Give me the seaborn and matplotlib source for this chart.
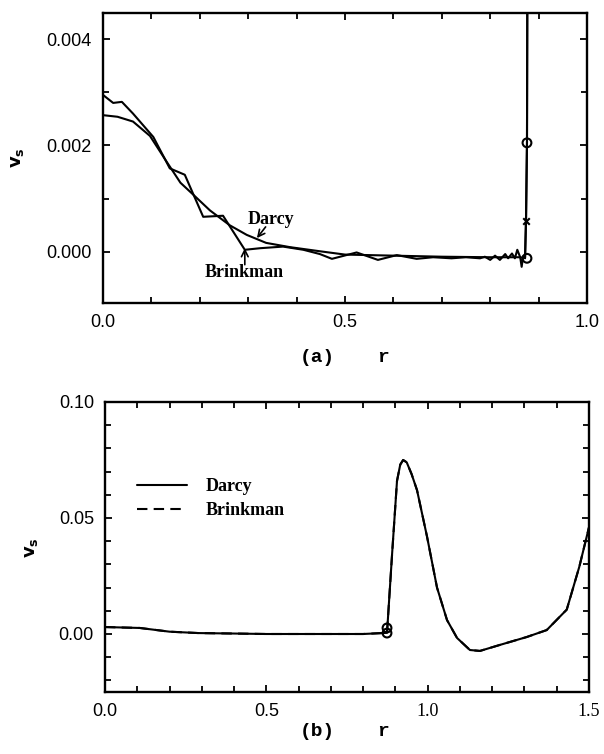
import numpy as np
import pandas as pd
import matplotlib
matplotlib.use("Agg")
import matplotlib.pyplot as plt
from matplotlib.ticker import MultipleLocator
import seaborn as sns

# ---------------- data ----------------
# panel (a)
darcy_a_r = [0.0, 0.03, 0.062, 0.097, 0.134, 0.16, 0.186, 0.221, 0.262, 0.297,
             0.337, 0.386, 0.45, 0.5, 0.55, 0.6, 0.7, 0.8, 0.86, 0.872, 0.874,
             0.876, 0.877]
darcy_a_v = [0.00257, 0.00254, 0.00245, 0.00218, 0.00166, 0.0013, 0.00108,
             0.00078, 0.0005, 0.00032, 0.00017, 0.00009, 0.00001, -0.00005,
             -0.00006, -0.00007, -0.00009, -0.0001, -0.0001, -0.00011, 0.0006,
             0.00205, 0.0060]

brink_a_r = [0.0, 0.021, 0.039, 0.062, 0.104, 0.138, 0.169, 0.207, 0.248, 0.293,
             0.325, 0.372, 0.414, 0.448, 0.473, 0.524, 0.568, 0.607, 0.648,
             0.682, 0.72, 0.75, 0.779, 0.789, 0.80, 0.81, 0.82, 0.831, 0.837,
             0.845, 0.851, 0.856, 0.862, 0.865, 0.868, 0.872, 0.874, 0.876,
             0.877]
brink_a_v = [0.00295, 0.0028, 0.00282, 0.0026, 0.00216, 0.00157, 0.00145,
             0.00066, 0.00068, 0.00004, 0.00007, 0.0001, 0.00004, -0.00004,
             -0.00013, -0.00001, -0.00015, -0.00006, -0.00013, -0.0001,
             -0.00012, -0.0001, -0.00012, -0.00009, -0.00015, -0.00007,
             -0.00015, -0.00004, -0.00012, -0.00003, -0.00012, 0.00004,
             -0.0001, -0.00028, -0.00008, -0.00012, 0.0006, 0.00205, 0.0060]

mark_a_circle_r = [0.876, 0.876]
mark_a_circle_v = [0.00205, -0.00012]
mark_a_x_r = [0.874]
mark_a_x_v = [0.00058]

# panel (b)
darcy_b_r = [0.0, 0.108, 0.2, 0.29, 0.4, 0.5, 0.6, 0.7, 0.8, 0.874, 0.89,
             0.905, 0.915, 0.924, 0.935, 0.95, 0.967, 0.998, 1.029, 1.06,
             1.091, 1.131, 1.162, 1.224, 1.307, 1.369, 1.431, 1.47, 1.5]
darcy_b_v = [0.003, 0.0026, 0.001, 0.0004, 0.0002, 0.0, 0.0, 0.0, 0.0, 0.0005,
             0.035, 0.066, 0.073, 0.075, 0.074, 0.069, 0.062, 0.042, 0.020,
             0.006, -0.0017, -0.0069, -0.0073, -0.0047, -0.0013, 0.0017,
             0.0105, 0.029, 0.046]
brink_b_r = [0.0, 0.108, 0.2, 0.29, 0.4, 0.5, 0.6, 0.7, 0.8, 0.874, 0.89,
             0.905, 0.915, 0.924, 0.935, 0.95, 0.967, 0.998, 1.029, 1.06,
             1.091, 1.131, 1.162, 1.224, 1.307, 1.369, 1.431, 1.47, 1.5]
brink_b_v = [0.003, 0.0026, 0.001, 0.0004, 0.0002, 0.0, 0.0, 0.0, 0.0, 0.0005,
             0.035, 0.066, 0.073, 0.075, 0.074, 0.069, 0.062, 0.042, 0.020,
             0.006, -0.0017, -0.0069, -0.0073, -0.0047, -0.0013, 0.0017,
             0.0105, 0.029, 0.046]
mark_b_circle_r = [0.874, 0.874]
mark_b_circle_v = [0.0026, 0.0004]

xticks_a = [0.0, 0.5, 1.0]
xticklabels_a = ["0.0", "0.5", "1.0"]
yticks_a = [0.0, 0.002, 0.004]
yticklabels_a = ["0.000", "0.002", "0.004"]
xticks_b = [0.0, 0.5, 1.0, 1.5]
xticklabels_b = ["0.0", "0.5", "1.0", "1.5"]
yticks_b = [0.0, 0.05, 0.10]
yticklabels_b = ["0.00", "0.05", "0.10"]

# ---------------- style ----------------
sns.set_theme(style="ticks", rc={"text.color": "black",
                                 "axes.labelcolor": "black",
                                 "xtick.color": "black",
                                 "ytick.color": "black",
                                 "axes.edgecolor": "black"})
plt.rcParams["font.family"] = ["Liberation Sans", "DejaVu Sans"]
plt.rcParams["lines.scale_dashes"] = True

SANS = "Liberation Sans"
SERIF = "Liberation Serif"
MONO = "Liberation Mono"
TICKFS = 13

fig = plt.figure(figsize=(6.04, 7.54), dpi=100)
ax1 = fig.add_axes([103 / 604, 1 - 303 / 754, 484 / 604, 290 / 754])
ax2 = fig.add_axes([105 / 604, 1 - 692 / 754, 484 / 604, 290 / 754])

LW = 1.5

def style_axes(ax):
    for s in ax.spines.values():
        s.set_linewidth(1.7)
        s.set_color("black")
    ax.tick_params(which="both", direction="in", top=True, right=True,
                   color="black", width=1.3, labelcolor="black")
    ax.tick_params(which="major", length=5, pad=8, labelsize=TICKFS)
    ax.tick_params(which="minor", length=4)
    ax.set_xlabel("")
    ax.set_ylabel("")

# ---- panel (a)
da = pd.DataFrame({"r": darcy_a_r, "v": darcy_a_v})
ba = pd.DataFrame({"r": brink_a_r, "v": brink_a_v})
sns.lineplot(data=da, x="r", y="v", ax=ax1, color="black", lw=LW,
             sort=False, estimator=None)
sns.lineplot(data=ba, x="r", y="v", ax=ax1, color="black", lw=LW,
             sort=False, estimator=None)
sns.scatterplot(x=mark_a_circle_r, y=mark_a_circle_v, ax=ax1, marker="o",
                s=40, facecolor="none", edgecolor="black", linewidth=1.5,
                zorder=5)
sns.scatterplot(x=mark_a_x_r, y=mark_a_x_v, ax=ax1, marker="x", s=22,
                color="black", linewidth=1.5, zorder=5)
ax1.set_xlim(0, 1.0)
ax1.set_ylim(-0.00096, 0.00449)
ax1.set_xticks(xticks_a, labels=xticklabels_a, fontfamily=SANS)
ax1.set_yticks(yticks_a, labels=yticklabels_a, fontfamily=SANS)
ax1.xaxis.set_minor_locator(MultipleLocator(0.1))
ax1.yaxis.set_minor_locator(MultipleLocator(0.001))
style_axes(ax1)

ax1.text(0.347, 0.0006, "Darcy", ha="center", va="center",
         fontfamily=SERIF, fontweight="bold", fontsize=13)
ax1.annotate("", xy=(0.318, 0.00026), xytext=(0.336, 0.00047),
             arrowprops=dict(arrowstyle="->", color="black", lw=1.2,
                             shrinkA=0, shrinkB=0))
ax1.text(0.291, -0.00039, "Brinkman", ha="center", va="center",
         fontfamily=SERIF, fontweight="bold", fontsize=13)
ax1.annotate("", xy=(0.293, 0.00007), xytext=(0.293, -0.00024),
             arrowprops=dict(arrowstyle="->", color="black", lw=1.2,
                             shrinkA=0, shrinkB=0))

# ---- panel (b)
db = pd.DataFrame({"r": darcy_b_r, "v": darcy_b_v})
bb = pd.DataFrame({"r": brink_b_r, "v": brink_b_v})
sns.lineplot(data=db, x="r", y="v", ax=ax2, color="black", lw=LW,
             sort=False, estimator=None, label="Darcy")
sns.lineplot(data=bb, x="r", y="v", ax=ax2, color="black", lw=LW,
             sort=False, estimator=None, label="Brinkman", dashes=False,
             linestyle=(0, (5, 3)))
sns.scatterplot(x=mark_b_circle_r, y=mark_b_circle_v, ax=ax2, marker="o",
                s=40, facecolor="none", edgecolor="black", linewidth=1.5,
                zorder=5)
ax2.set_xlim(0, 1.5)
ax2.set_ylim(-0.025, 0.10)
ax2.set_xticks(xticks_b, labels=xticklabels_b, fontfamily=SANS)
ax2.set_yticks(yticks_b, labels=yticklabels_b, fontfamily=SANS)
for t in ax2.get_xticklabels():
    if t.get_text() in ("1.0", "1.5"):
        t.set_fontfamily(SERIF)
ax2.xaxis.set_minor_locator(MultipleLocator(0.1))
ax2.yaxis.set_minor_locator(MultipleLocator(0.01))
style_axes(ax2)

leg = ax2.legend(loc="upper left", bbox_to_anchor=(0.066, 0.738),
                 frameon=False, borderpad=0, borderaxespad=0,
                 handlelength=2.8, handletextpad=1.0, labelspacing=0.4,
                 prop={"family": SERIF, "weight": "bold", "size": 13})
for line in leg.get_lines():
    line.set_linewidth(LW)
    line.set_color("black")

# ---- labels
fig.text(18 / 604, 1 - 158 / 754, r"$\mathbf{v_s}$", rotation=90,
         ha="center", va="center", fontsize=13)
fig.text(31 / 604, 1 - 548 / 754, r"$\mathbf{v_s}$", rotation=90,
         ha="center", va="center", fontsize=13)
for label, ypx in (("(a)", 357), ("(b)", 731)):
    fig.text(317 / 604, 1 - ypx / 754, label, ha="center", va="center",
             fontfamily=MONO, fontweight="bold", fontsize=14)
    fig.text(383 / 604, 1 - ypx / 754, "r", ha="center", va="center",
             fontfamily=MONO, fontweight="bold", fontsize=14)

fig.savefig("out.png", dpi=100)
